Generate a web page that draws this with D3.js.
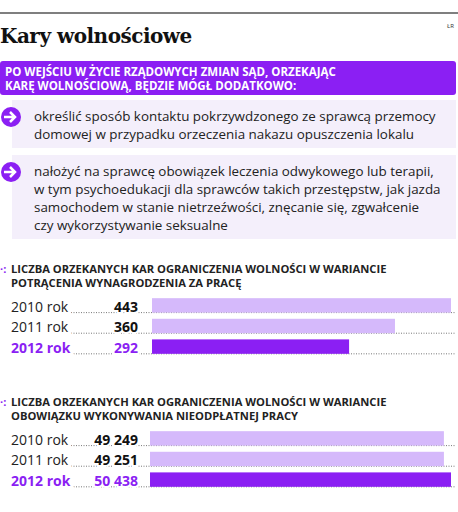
<!DOCTYPE html>
<html><head><meta charset="utf-8">
<script src="https://cdn.jsdelivr.net/npm/d3@7"></script>
<style>body{margin:0;background:#fff}</style>
</head><body><svg id="c" width="458" height="512"></svg>
<script>
var years = ["2010 rok", "2011 rok", "2012 rok"];
var wages = [443, 360, 292];
var unpaid = [49249, 49251, 50438];
var titles1 = ["Liczba orzekanych kar ograniczenia wolności w wariancie", "potrącenia wynagrodzenia za pracę"];
var titles2 = ["Liczba orzekanych kar ograniczenia wolności w wariancie", "obowiązku wykonywania nieodpłatnej pracy"];
var points = [
	["określić sposób kontaktu pokrzywdzonego ze sprawcą przemocy", "domowej w przypadku orzeczenia nakazu opuszczenia lokalu"],
	["nałożyć na sprawcę obowiązek leczenia odwykowego lub terapii,", "w tym psychoedukacji dla sprawców takich przestępstw, jak jazda", "samochodem w stanie nietrzeźwości, znęcanie się, zgwałcenie", "czy wykorzystywanie seksualne"]
];
var purple = "#8b1ff3", light = "#d5b9fb", sans = "'Open Sans', sans-serif";

var svg = d3.select("#c");
svg.append("line").attr("x1", 0).attr("x2", 458).attr("y1", 13).attr("y2", 13).attr("stroke", "#555").attr("stroke-width", 1.5);
svg.append("text").attr("x", 447).attr("y", 28).attr("font-size", 6).attr("font-family", sans).attr("fill", "#333").text("ŁR");
svg.append("text").attr("x", 0).attr("y", 43).attr("font-family", "'DejaVu Serif', serif").attr("font-weight", "bold").attr("font-size", 20).attr("letter-spacing", -0.5).attr("fill", "#111").text("Kary wolnościowe");

svg.append("rect").attr("x", 0).attr("y", 61).attr("width", 456).attr("height", 34).attr("rx", 3).attr("fill", purple);
["PO WEJŚCIU W ŻYCIE RZĄDOWYCH ZMIAN SĄD, ORZEKAJĄC", "KARĘ WOLNOŚCIOWĄ, BĘDZIE MÓGŁ DODATKOWO:"].forEach(function(t, i) {
	svg.append("text").attr("x", 5).attr("y", 76 + i * 14).attr("font-family", sans).attr("font-weight", "bold").attr("font-size", 11.5).attr("fill", "#fff").text(t);
});

var boxY = [100, 155];
points.forEach(function(lines, k) {
	var y0 = boxY[k];
	svg.append("rect").attr("x", 12).attr("y", y0).attr("width", 444).attr("height", lines.length * 18 + 12).attr("fill", "#f4effb");
	svg.append("circle").attr("cx", 11).attr("cy", y0 + 17).attr("r", 10).attr("fill", purple);
	svg.append("path").attr("d", "M4," + (y0 + 17) + "h10 M10," + (y0 + 12) + "l5,5 l-5,5").attr("stroke", "#fff").attr("stroke-width", 2.5).attr("fill", "none");
	lines.forEach(function(t, i) {
		svg.append("text").attr("x", 34).attr("y", y0 + 21 + i * 18).attr("font-family", sans).attr("font-size", 13.4).attr("fill", "#222").text(t);
	});
});

function chart(top, titles, values, barX, fmt) {
	svg.append("text").attr("x", 0).attr("y", top).attr("font-family", sans).attr("font-weight", "bold").attr("font-size", 11).attr("fill", purple).text("·:");
	titles.forEach(function(t, i) {
		svg.append("text").attr("x", 11).attr("y", top + i * 14).attr("font-family", sans).attr("font-weight", "bold").attr("font-size", 11.2).attr("fill", "#222").text(t.toUpperCase());
	});
	var x = d3.scaleLinear().domain([0, d3.max(values)]).range([barX, 451]);
	var y = d3.scaleBand().domain(years).range([top + 19, top + 19 + 68]).padding(0.3);
	var g = svg.append("g");
	var row = g.selectAll("g").data(years).enter().append("g");
	row.append("line")
		.attr("x2", 456).attr("y1", function(d) { return y(d) + y.bandwidth(); }).attr("y2", function(d) { return y(d) + y.bandwidth(); })
		.attr("stroke", "#555").attr("stroke-dasharray", "1,1.5").attr("stroke-width", 0.8)
		.attr("x1", 66);
	row.append("rect").attr("x", barX).attr("y", function(d) { return y(d); })
		.attr("width", function(d, i) { return x(values[i]) - barX; }).attr("height", y.bandwidth())
		.attr("fill", function(d, i) { return i === 2 ? purple : light; });
	row.append("text").attr("x", 11).attr("y", function(d) { return y(d) + y.bandwidth() - 1; })
		.attr("font-family", sans).attr("font-size", 14).attr("font-weight", function(d, i) { return i === 2 ? "bold" : "normal"; })
		.attr("fill", function(d, i) { return i === 2 ? purple : "#222"; }).attr("paint-order", "stroke").attr("stroke", "#fff").attr("stroke-width", 4)
		.text(function(d) { return d; });
	row.append("text").attr("x", 138).attr("text-anchor", "end").attr("y", function(d) { return y(d) + y.bandwidth() - 1; })
		.attr("font-family", sans).attr("font-size", 14).attr("font-weight", "bold")
		.attr("fill", function(d, i) { return i === 2 ? purple : "#111"; }).attr("paint-order", "stroke").attr("stroke", "#fff").attr("stroke-width", 4)
		.text(function(d, i) { return fmt(values[i]); });
}
var spaced = function(v) { return d3.format(",")(v).replace(/,/g, " "); };
chart(273, titles1, wages, 152, spaced);
chart(406, titles2, unpaid, 150, spaced);
</script></body></html>
